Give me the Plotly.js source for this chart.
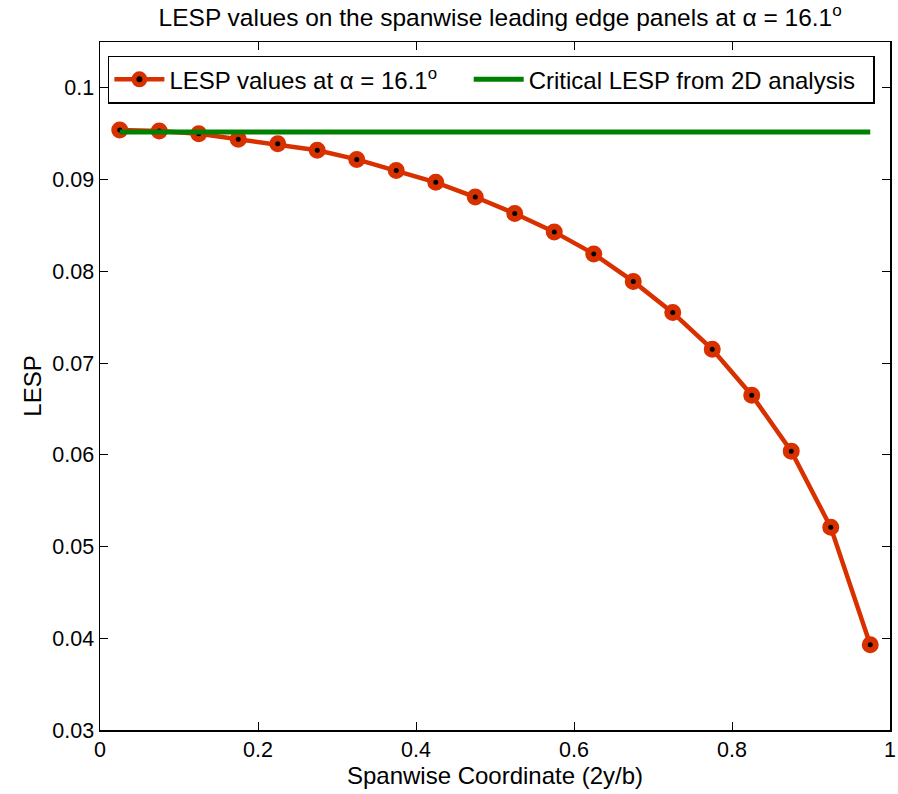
<!DOCTYPE html>
<html>
<head>
<meta charset="utf-8">
<script src="https://cdn.plot.ly/plotly-3.0.1.min.js"></script>
<style>html,body{margin:0;padding:0;background:#fff;}#chart{width:898px;height:794px;}</style>
</head>
<body>
<div id="chart"></div>
<script>
const span = [0.025,0.075,0.125,0.175,0.225,0.275,0.325,0.375,0.425,0.475,0.525,0.575,0.625,0.675,0.725,0.775,0.825,0.875,0.925,0.975];
const lesp = [0.0954,0.0953,0.0950,0.0944,0.0939,0.0932,0.0922,0.0910,0.0897,0.0881,0.0863,0.0843,0.0819,0.0789,0.0755,0.0715,0.0665,0.0604,0.0521,0.0393];
const critX = [0.025,0.975];
const critY = [0.0952,0.0952];
const xTicks = [0,0.2,0.4,0.6,0.8,1];
const xTickText = ['0','0.2','0.4','0.6','0.8','1'];
const yTicks = [0.03,0.04,0.05,0.06,0.07,0.08,0.09,0.1];
const yTickText = ['0.03','0.04','0.05','0.06','0.07','0.08','0.09','0.1'];

const font = 'Liberation Sans, Arial, Helvetica, sans-serif';
const data = [
  {x: span, y: lesp, type:'scatter', mode:'lines+markers',
   name:'LESP values at α = 16.1<sup>o</sup>\u00a0\u00a0\u00a0\u00a0',
   line:{color:'#d93000', width:4.5},
   marker:{size:11, color:'#000', line:{color:'#d93000', width:6}}},
  {x: critX, y: critY, type:'scatter', mode:'lines',
   name:'Critical LESP from 2D analysis\u00a0\u00a0',
   line:{color:'#008000', width:5}}
];
const axisCommon = {showgrid:false, zeroline:false, showline:true, linecolor:'#000', linewidth:1.5,
  mirror:'ticks', ticks:'inside', ticklen:8, tickcolor:'#000', tickwidth:1,
  tickfont:{family:font, size:21.5, color:'#000'}};
const layout = {
  width:898, height:794,
  margin:{l:100, r:8, t:42, b:64},
  paper_bgcolor:'#fff', plot_bgcolor:'#fff',
  title:{text:'LESP values on the spanwise leading edge panels at α = 16.1<sup>o</sup>',
    font:{family:font, size:24.5, color:'#000'}, x:0.557, xanchor:'center', y:0.978, yanchor:'middle'},
  xaxis: Object.assign({}, axisCommon, {range:[0,1], tickvals:xTicks, ticktext:xTickText,
    title:{text:'Spanwise Coordinate (2y/b)', font:{family:font, size:24, color:'#000'}, standoff:2}}),
  yaxis: Object.assign({}, axisCommon, {range:[0.03,0.105], tickvals:yTicks, ticktext:yTickText,
    title:{text:'LESP', font:{family:font, size:24, color:'#000'}, standoff:4}}),
  showlegend:true,
  legend:{x:0.01, y:0.98, xanchor:'left', yanchor:'top', orientation:'h',
    bordercolor:'#000', borderwidth:1.5, bgcolor:'#fff',
    font:{family:font, size:24, color:'#000'}, itemwidth:50, tracegroupgap:0}
};
Plotly.newPlot('chart', data, layout, {displayModeBar:false, staticPlot:true});
</script>
</body>
</html>
